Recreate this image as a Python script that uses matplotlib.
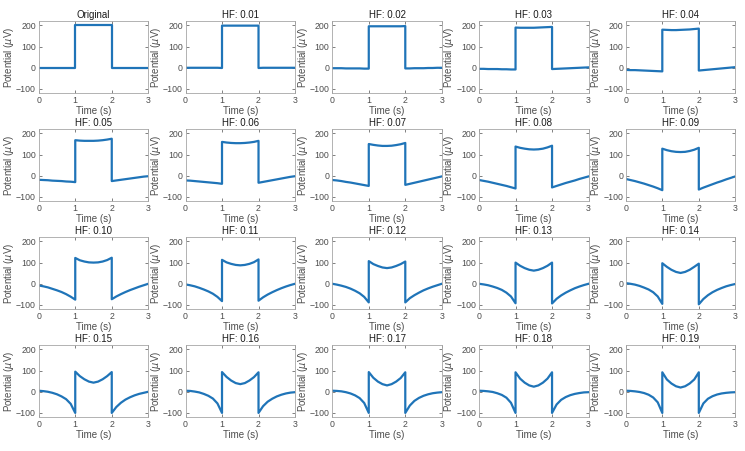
import numpy as np
import matplotlib
matplotlib.use("Agg")
import matplotlib.pyplot as plt

plt.rcParams['font.family'] = ['Liberation Sans', 'DejaVu Sans']

titles = ["Original", "HF: 0.01", "HF: 0.02", "HF: 0.03", "HF: 0.04",
          "HF: 0.05", "HF: 0.06", "HF: 0.07", "HF: 0.08", "HF: 0.09",
          "HF: 0.10", "HF: 0.11", "HF: 0.12", "HF: 0.13", "HF: 0.14",
          "HF: 0.15", "HF: 0.16", "HF: 0.17", "HF: 0.18", "HF: 0.19"]

# sample times for each piece of the signal (s)
t_pre = [0, 0.125, 0.25, 0.375, 0.5, 0.625, 0.75, 0.875, 1.0]
t_pulse = [1.0, 1.125, 1.25, 1.375, 1.5, 1.625, 1.75, 1.875, 2.0]
t_post = [2.0, 2.125, 2.25, 2.375, 2.5, 2.625, 2.75, 2.875, 3.0]

# potential (uV), one row per panel
pre = [
    [0, 0, 0, 0, 0, 0, 0, 0, 0],
    [0, 0, 0, 0, 0, 0, 0, 0, -1],
    [-2, -2, -2, -3, -3, -3, -3, -4, -4],
    [-5, -5, -6, -6, -6, -7, -7, -8, -8],
    [-10, -11, -11, -12, -13, -14, -15, -16, -17],
    [-19, -20, -21, -23, -24, -25, -27, -28, -30],
    [-22, -23, -25, -27, -29, -31, -33, -35, -38],
    [-20, -22, -25, -29, -32, -36, -40, -44, -48],
    [-20, -24, -28, -33, -38, -43, -48, -54, -60],
    [-15, -20, -25, -31, -37, -44, -51, -59, -68],
    [-8, -12, -17, -24, -31, -39, -49, -61, -75],
    [-3, -7, -12, -19, -27, -36, -47, -62, -82],
    [0, -4, -9, -15, -23, -33, -45, -62, -88],
    [0, -3, -7, -13, -20, -29, -42, -60, -92],
    [3, 0, -4, -10, -18, -27, -40, -60, -95],
    [5, 3, 0, -5, -12, -22, -35, -57, -100],
    [5, 4, 1, -3, -10, -19, -32, -55, -100],
    [5, 4, 2, -2, -8, -17, -30, -53, -100],
    [5, 4, 2, -1, -7, -15, -28, -52, -100],
    [5, 4, 2, -1, -6, -14, -27, -50, -100],
]
pulse = [
    [200, 200, 200, 200, 200, 200, 200, 200, 200],
    [199, 199, 199, 199, 199, 199, 199, 199, 199],
    [196, 196, 196, 196, 196, 196, 196, 196, 197],
    [190, 189, 189, 189, 189, 190, 191, 192, 193],
    [180, 179, 178, 178, 179, 180, 181, 183, 185],
    [168, 166, 165, 165, 165, 166, 168, 171, 175],
    [160, 157, 155, 154, 154, 155, 157, 160, 165],
    [150, 146, 143, 141, 141, 142, 145, 149, 155],
    [138, 132, 128, 125, 124, 125, 128, 134, 142],
    [128, 121, 116, 113, 112, 113, 117, 123, 132],
    [122, 111, 105, 101, 100, 101, 105, 112, 123],
    [113, 101, 94, 89, 87, 89, 94, 102, 115],
    [107, 93, 84, 77, 74, 77, 84, 93, 105],
    [100, 85, 74, 66, 62, 66, 74, 85, 100],
    [97, 80, 66, 56, 51, 56, 66, 80, 95],
    [95, 74, 59, 48, 43, 48, 59, 74, 93],
    [93, 70, 53, 41, 36, 41, 53, 69, 92],
    [93, 66, 48, 36, 30, 36, 48, 65, 92],
    [92, 62, 43, 30, 24, 30, 43, 62, 92],
    [92, 58, 39, 26, 20, 26, 39, 58, 92],
]
post = [
    [0, 0, 0, 0, 0, 0, 0, 0, 0],
    [-1, 0, 0, 0, 0, 0, 0, 0, 0],
    [-3, -3, -2, -2, -2, -1, -1, 0, 0],
    [-6, -5, -4, -3, -2, -1, 0, 1, 2],
    [-13, -11, -9, -7, -5, -3, -1, 1, 3],
    [-25, -22, -19, -16, -13, -10, -7, -4, -2],
    [-33, -29, -25, -21, -17, -13, -9, -5, -2],
    [-43, -38, -33, -28, -23, -18, -13, -8, -3],
    [-55, -48, -41, -34, -28, -22, -15, -9, -3],
    [-65, -56, -48, -40, -32, -25, -17, -10, -3],
    [-73, -60, -49, -39, -30, -22, -14, -7, 0],
    [-80, -64, -51, -40, -30, -21, -13, -6, 0],
    [-88, -68, -54, -42, -31, -22, -14, -7, 0],
    [-93, -71, -55, -42, -31, -21, -13, -6, 0],
    [-97, -72, -54, -40, -29, -20, -12, -6, -1],
    [-100, -72, -52, -37, -26, -17, -10, -5, 0],
    [-100, -68, -47, -33, -22, -14, -8, -4, -2],
    [-100, -65, -43, -29, -19, -12, -7, -4, -2],
    [-100, -60, -38, -25, -16, -10, -6, -3, -2],
    [-100, -55, -33, -21, -13, -8, -5, -3, -2],
]

blue = '#1f74b8'
grey = '#4d4d4d'

fig, axes = plt.subplots(4, 5, figsize=(7.45, 4.51), dpi=100)
fig.subplots_adjust(left=0.052, right=0.987, top=0.953, bottom=0.075,
                    wspace=0.34, hspace=0.50)

for i, ax in enumerate(axes.flat):
    t = t_pre + t_pulse + t_post
    v = pre[i] + pulse[i] + post[i]
    ax.plot(t, v, color=blue, lw=1.6)
    ax.set_xlim(0, 3)
    ax.set_ylim(-120, 220)
    ax.set_xticks([0, 1, 2, 3])
    ax.set_yticks([-100, 0, 100, 200])
    ax.set_title(titles[i], fontsize=7, color='#1a1a1a', pad=2)
    ax.set_xlabel('Time (s)', fontsize=7, color=grey, labelpad=1)
    ax.set_ylabel('Potential ($\\mu$V)', fontsize=7, color=grey, labelpad=0)
    ax.tick_params(direction='in', length=2, width=0.5, labelsize=6.3,
                   colors=grey, pad=2, top=True, right=True)
    for s in ax.spines.values():
        s.set_color('#a6a6a6')
        s.set_linewidth(0.6)

fig.savefig('out.png', dpi=100)
